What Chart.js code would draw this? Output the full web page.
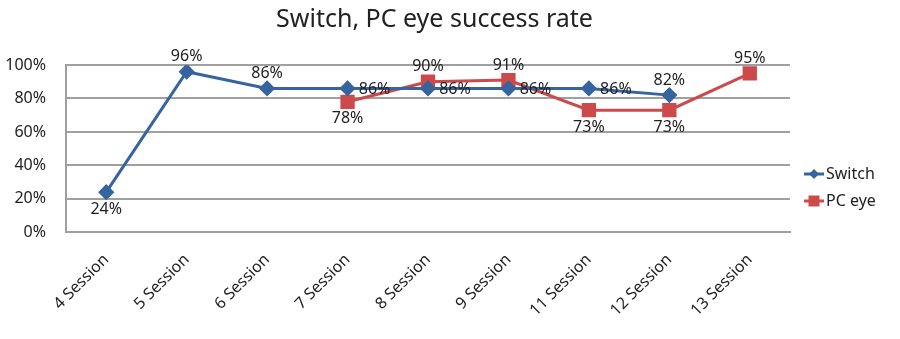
<!DOCTYPE html>
<html>
<head>
<meta charset="utf-8">
<script src="https://cdn.jsdelivr.net/npm/chart.js@4/dist/chart.umd.min.js"></script>
<style>
  html, body { margin: 0; padding: 0; background: #fff; }
  #wrap { width: 900px; height: 339px; }
</style>
</head>
<body>
<div id="wrap"><canvas id="chart" width="900" height="339"></canvas></div>
<script>
// chart data
var sessions = ['4 Session', '5 Session', '6 Session', '7 Session', '8 Session', '9 Session', '11 Session', '12 Session', '13 Session'];
var switchRate = [24, 96, 86, 86, 86, 86, 86, 82, null];
var pcEyeRate = [null, null, null, 78, 90, 91, 73, 73, 95];
var yTicks = [0, 20, 40, 60, 80, 100];

// where each value label sits relative to its point
var switchLabelPos = ['below', 'above', 'above', 'right', 'right', 'right', 'right', 'above', null];
var pcEyeLabelPos = [null, null, null, 'below', 'above', 'above', 'below', 'below', 'above'];

var blue = '#35649f';
var red = '#cc4a4c';
var font = '"Noto Sans", "Liberation Sans", sans-serif';

function drawMarker(ctx, color, style, x, y) {
    ctx.fillStyle = color;
    ctx.beginPath();
    if (style == 'diamond') {
        ctx.moveTo(x, y - 5);
        ctx.lineTo(x + 5, y);
        ctx.lineTo(x, y + 5);
        ctx.lineTo(x - 5, y);
        ctx.closePath();
    } else {
        ctx.rect(x - 5.5, y - 5.5, 11, 11);
    }
    ctx.fill();
}

var valueLabels = {
    id: 'valueLabels',
    afterDatasetsDraw(chart) {
        var ctx = chart.ctx;
        var placement = [switchLabelPos, pcEyeLabelPos];
        ctx.save();
        ctx.font = '16px ' + font;
        ctx.fillStyle = '#222';
        ctx.textAlign = 'center';
        ctx.textBaseline = 'middle';
        chart.data.datasets.forEach((dataset, i) => {
            var meta = chart.getDatasetMeta(i);
            meta.data.forEach((pt, j) => {
                var v = dataset.data[j];
                var pos = placement[i][j];
                if (v == null || !pos)
                    return;
                var x = pt.x, y = pt.y;
                if (pos == 'above') y -= 15;
                else if (pos == 'below') y += 17;
                else if (pos == 'right') { x += 27; y += 1; }
                ctx.fillText(v + '%', x, y);
            });
        });
        ctx.restore();
    }
};

// legend with line + marker, placed right of the plot
var sideLegend = {
    id: 'sideLegend',
    afterDraw(chart) {
        var ctx = chart.ctx;
        var area = chart.chartArea;
        var x = area.right + 14;
        var y = area.top + 109;
        ctx.save();
        ctx.font = '16px ' + font;
        ctx.textBaseline = 'middle';
        chart.data.datasets.forEach((ds, i) => {
            var yy = y + i * 27;
            ctx.strokeStyle = ds.borderColor;
            ctx.lineWidth = 3;
            ctx.beginPath();
            ctx.moveTo(x, yy);
            ctx.lineTo(x + 20, yy);
            ctx.stroke();
            drawMarker(ctx, ds.borderColor, i == 0 ? 'diamond' : 'square', x + 10, yy);
            ctx.fillStyle = '#222';
            ctx.fillText(ds.label, x + 22, yy);
        });
        ctx.restore();
    }
};

new Chart(document.getElementById('chart'), {
    type: 'line',
    data: {
        labels: sessions,
        datasets: [{
            label: 'Switch',
            data: switchRate,
            borderColor: blue,
            backgroundColor: blue,
            borderWidth: 3,
            pointStyle: 'rectRot',
            pointRadius: 6,
            pointHoverRadius: 6,
            tension: 0
        }, {
            label: 'PC eye',
            data: pcEyeRate,
            borderColor: red,
            backgroundColor: red,
            borderWidth: 3,
            pointStyle: 'rect',
            pointRadius: 8,
            pointHoverRadius: 8,
            tension: 0
        }]
    },
    options: {
        responsive: false,
        animation: false,
        layout: {
            padding: { left: 3, right: 34, top: 0, bottom: 1 }
        },
        plugins: {
            title: {
                display: true,
                text: 'Switch, PC eye success rate',
                color: '#222',
                font: { family: font, size: 25, weight: 'normal' },
                padding: { top: 5, bottom: 30 }
            },
            legend: { display: false },
            tooltip: { enabled: false }
        },
        scales: {
            x: {
                offset: true,
                grid: { display: false, drawTicks: false },
                border: { display: true, color: '#a0a0a0', width: 2 },
                ticks: {
                    minRotation: 45,
                    maxRotation: 45,
                    color: '#222',
                    padding: 18,
                    font: { family: font, size: 16 }
                },
                afterFit: function (axis) {
                    // rotated labels should not push the plot inwards
                    axis.paddingLeft = 0;
                    axis.paddingRight = 0;
                }
            },
            y: {
                min: 0,
                max: 100,
                afterBuildTicks: function (axis) {
                    axis.ticks = yTicks.map(v => ({ value: v }));
                },
                grid: { color: '#a0a0a0', lineWidth: 2, drawTicks: false },
                border: { display: true, color: '#a0a0a0', width: 2 },
                ticks: {
                    color: '#222',
                    padding: 20,
                    font: { family: font, size: 16 },
                    callback: v => v + '%'
                },
                afterFit: function (axis) {
                    axis.width = 63;
                }
            },
            // empty right axis, keeps room for the legend
            legendSpace: {
                type: 'linear',
                position: 'right',
                grid: { display: false, drawTicks: false },
                border: { display: false },
                ticks: { display: false },
                afterFit: function (axis) {
                    axis.width = 76;
                }
            }
        }
    },
    plugins: [valueLabels, sideLegend]
});
</script>
</body>
</html>
